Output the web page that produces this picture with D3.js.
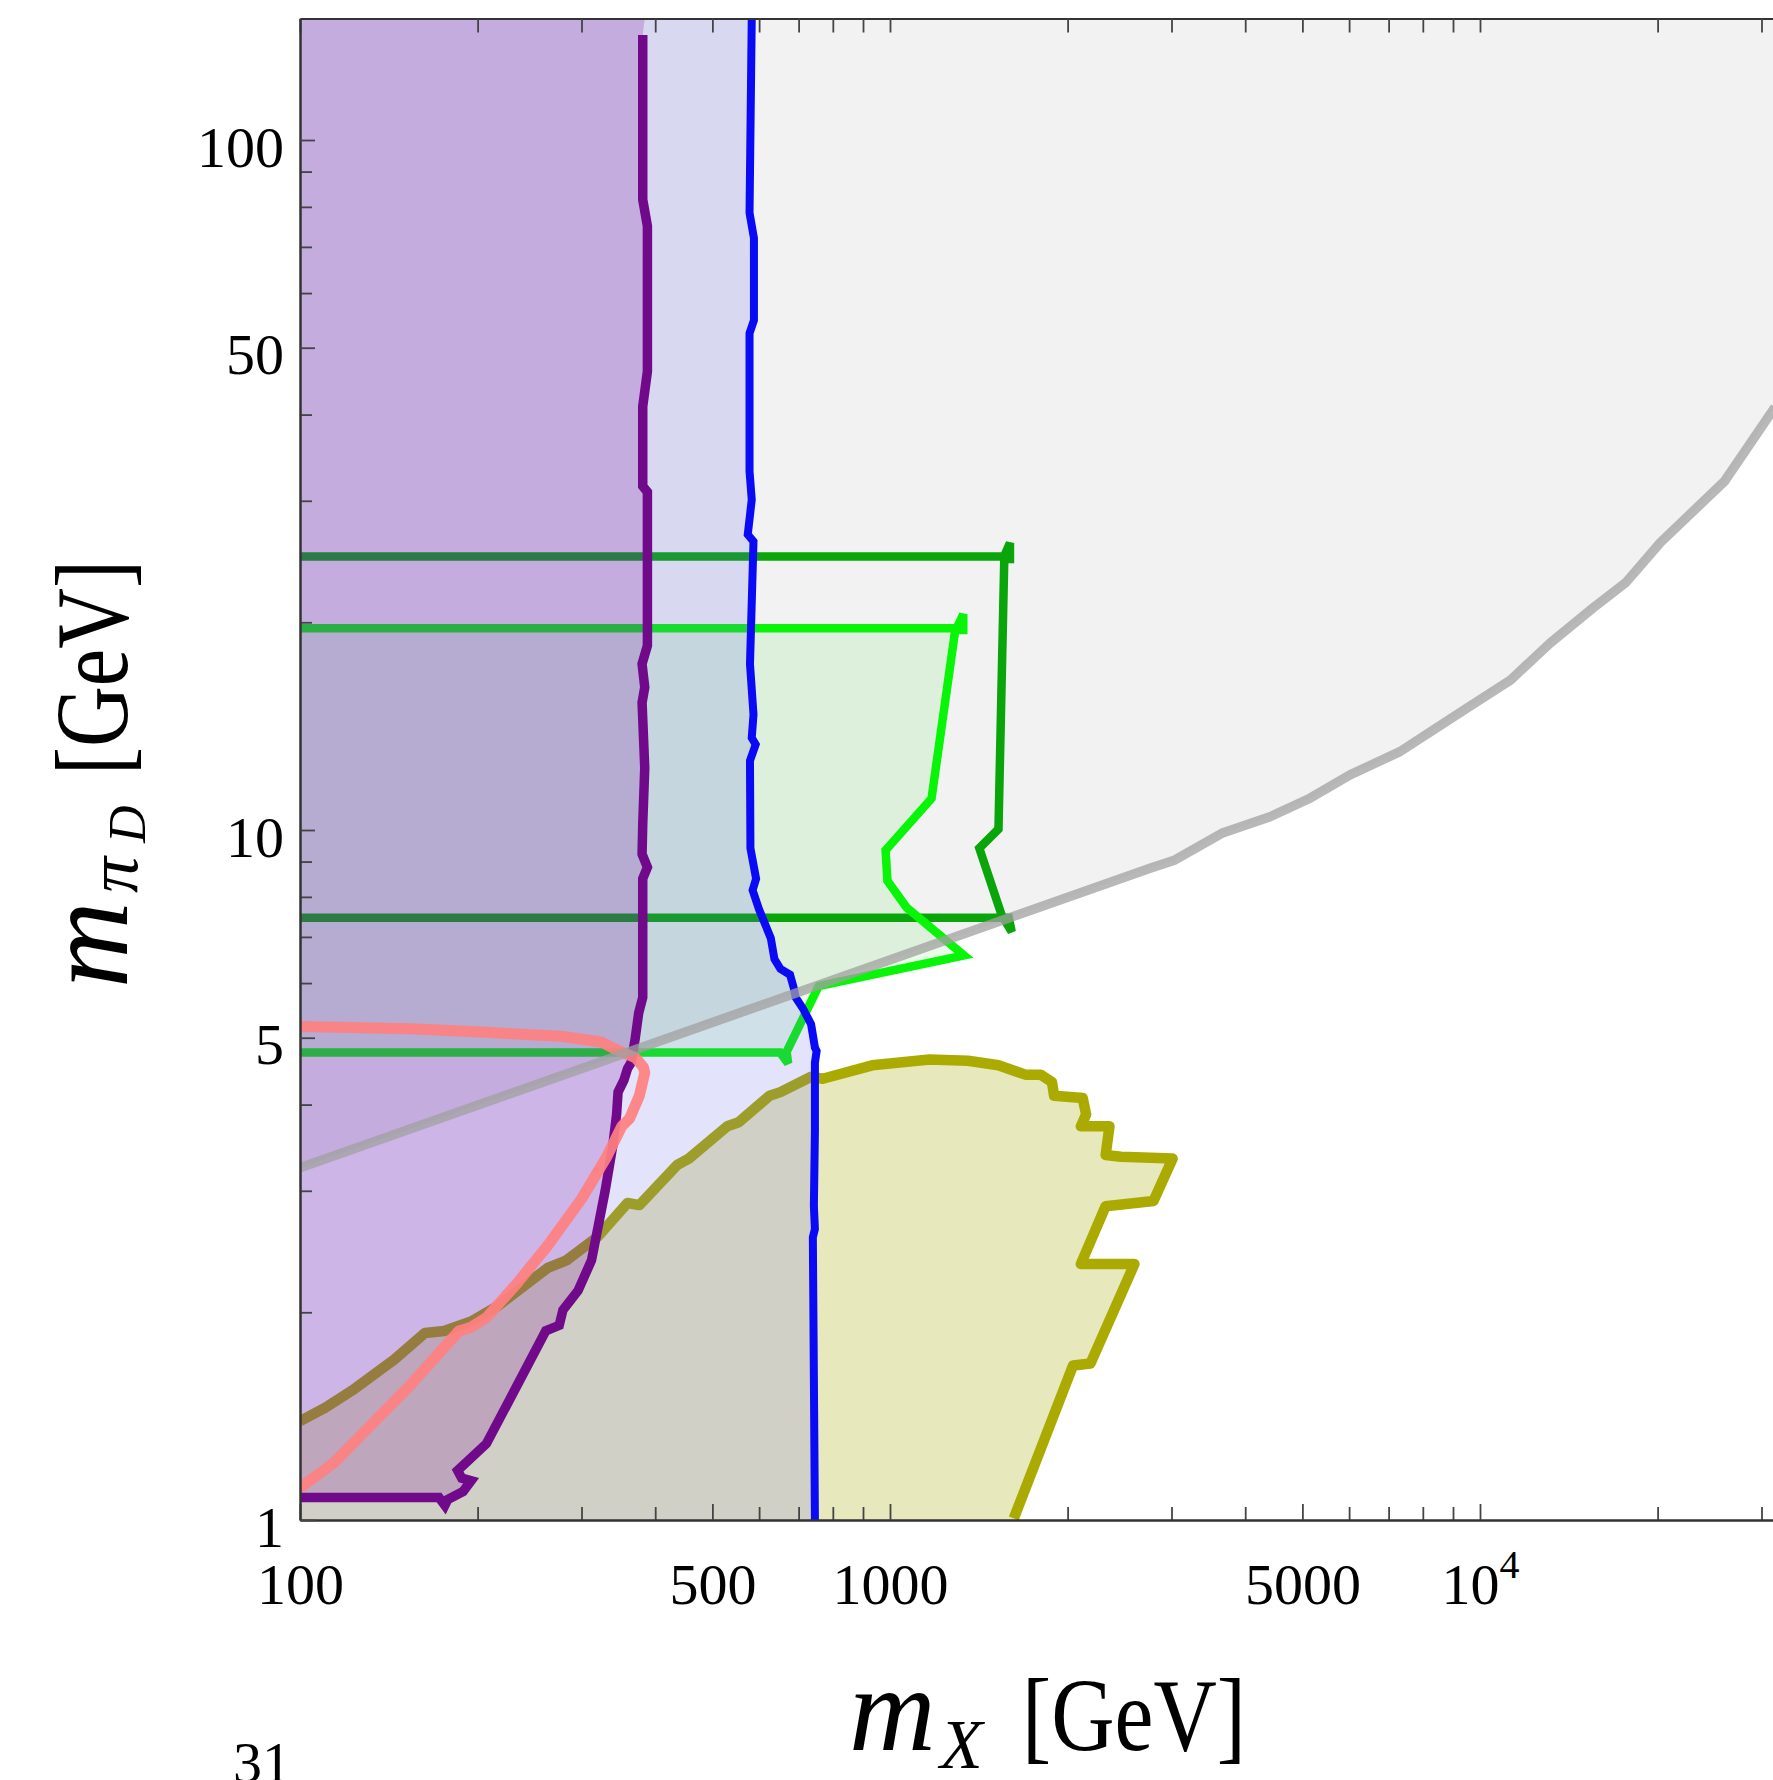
<!DOCTYPE html>
<html>
<head>
<meta charset="utf-8">
<script src="https://cdn.jsdelivr.net/npm/d3@7"></script>
<style>
  body { margin: 0; background: #fff; }
  svg { display: block; font-family: 'Liberation Serif', 'DejaVu Serif', serif; }
</style>
</head>
<body>
<svg id="chart" width="1773" height="1780"></svg>
<script>
// tick labels
const xMajor = [100, 500, 1000, 5000, 10000];
const yMajor = [1, 5, 10, 50, 100];

// grey boundary (m_X, m_piD)
const grayX = [100, 2759, 3041, 3650, 4407, 5151, 6021, 7317, 8332, 9495, 11270, 13140, 15540, 17670, 20230, 25970, 31623];
const grayY = [3.24, 8.80, 9.05, 9.89, 10.45, 11.12, 12.02, 12.99, 13.96, 15.01, 16.50, 18.65, 20.98, 22.84, 26.11, 32.02, 41.0];

// purple contour
const purpleX = [381, 381, 388, 388, 381, 381, 388, 388, 380, 384, 380, 384, 381, 380, 388, 381, 381, 375, 370, 364, 359, 354, 346, 344, 339, 329, 312, 296, 279, 275, 261, 207, 185, 188, 195, 189, 178, 176, 172, 100];
const purpleY = [142, 82, 75, 46.2, 41.1, 31.5, 30.9, 18.5, 17.4, 16.1, 15.3, 12.3, 10.2, 9.23, 8.83, 8.5, 5.72, 5.43, 4.99, 4.6, 4.51, 4.34, 4.17, 3.87, 3.49, 3.0, 2.38, 2.15, 2.015, 1.915, 1.88, 1.29, 1.18, 1.15, 1.14, 1.10, 1.071, 1.05, 1.078, 1.078];

// blue contour
const blueX = [583, 578, 588, 588, 578, 578, 583, 574, 587, 579, 587, 583, 592, 579, 580, 593, 585, 600, 628, 637, 652, 677, 687, 692, 713, 735, 746, 751, 746, 746, 743, 746, 740, 746];
const blueY = [150, 78.4, 72.1, 54.8, 52.5, 33.1, 30.1, 26.8, 26.2, 17.4, 14.7, 13.6, 13.3, 12.6, 9.41, 8.5, 8.18, 7.67, 6.97, 6.5, 6.29, 6.17, 5.9, 5.72, 5.5, 5.23, 4.84, 4.78, 4.6, 3.67, 2.85, 2.64, 2.57, 1];

// dark green contour
const dkGreenX = [100, 1560, 1597, 1597, 1562, 1527, 1417, 1546, 1608, 1590, 100];
const dkGreenY = [24.9, 24.9, 26.06, 24.7, 24.7, 10.03, 9.41, 7.53, 7.12, 7.46, 7.46];

// light green contour
const ltGreenX = [100, 1297, 1331, 1331, 1290, 1176, 983, 990, 1067, 1335, 757, 668, 672, 651, 100];
const ltGreenY = [19.6, 19.6, 20.54, 19.5, 19.5, 11.11, 9.35, 8.44, 7.72, 6.58, 5.94, 4.77, 4.59, 4.76, 4.76];

// yellow contour
const yellowX = [100, 110.4, 122.6, 144.5, 162.8, 175.5, 195, 216, 263, 283, 319, 359, 376, 436, 456, 530, 554, 625, 652, 735, 769, 933, 1167, 1356, 1527, 1696, 1800, 1882, 1897, 2121, 2150, 2106, 2355, 2320, 2463, 3013, 2797, 2320, 2106, 2596, 2187, 2043, 1621];
const yellowY = [1.391, 1.455, 1.541, 1.708, 1.866, 1.879, 1.94, 2.041, 2.32, 2.379, 2.57, 2.88, 2.86, 3.27, 3.34, 3.72, 3.77, 4.12, 4.17, 4.39, 4.36, 4.56, 4.65, 4.63, 4.56, 4.42, 4.42, 4.31, 4.12, 4.09, 3.87, 3.72, 3.72, 3.38, 3.36, 3.34, 2.90, 2.85, 2.35, 2.35, 1.686, 1.675, 1.005];

// pink contour
const pinkX = [100, 153, 207, 279, 324, 344, 370, 382, 384, 376, 362, 351, 331, 300, 263, 233, 207, 195, 186, 153, 132, 114, 100];
const pinkY = [5.19, 5.15, 5.09, 5.02, 4.93, 4.80, 4.68, 4.53, 4.45, 4.12, 3.82, 3.72, 3.36, 2.92, 2.50, 2.20, 1.965, 1.903, 1.879, 1.561, 1.374, 1.209, 1.113];

const xDomain = [100, 31623], yDomain = [1, 150];

const plot = { left: 300, right: 1775, top: 18.5, bottom: 1520 };

const svg = d3.select('#chart');

const x = d3.scaleLog().domain(xDomain).range([plot.left, plot.right]);
const y = d3.scaleLog().domain(yDomain).range([plot.bottom, plot.top]);

const pts = (xs, ys) => xs.map((v, i) => [v, ys[i]]);
const line = d3.line().x(d => x(d[0])).y(d => y(d[1]));

svg
  .append('defs')
  .append('clipPath')
  .attr('id', 'clip')
  .append('rect')
  .attr('x', plot.left)
  .attr('y', plot.top)
  .attr('width', plot.right - plot.left)
  .attr('height', plot.bottom - plot.top);

const g = svg.append('g').attr('clip-path', 'url(#clip)');

const fill = (data, color) =>
  g.append('path').attr('d', line(data) + 'Z').attr('fill', color).attr('stroke', 'none');

const stroke = (data, color, w, join = 'miter') =>
  g
    .append('path')
    .attr('d', line(data))
    .attr('fill', 'none')
    .attr('stroke', color)
    .attr('stroke-width', w)
    .attr('stroke-linejoin', join)
    .attr('stroke-miterlimit', 3);

// fills
fill(pts(grayX, grayY).concat([[xDomain[1], yDomain[1]], [xDomain[0], yDomain[1]]]), '#f2f2f2');
fill(pts(ltGreenX, ltGreenY), 'rgba(0,225,0,0.09)');
fill(pts(yellowX, yellowY).concat([[1621, 1], [100, 1]]), 'rgba(165,165,0,0.26)');

// lines under the exclusion fills
stroke(pts(dkGreenX, dkGreenY), '#0aa50a', 8.5);
stroke(pts(ltGreenX, ltGreenY), '#08f508', 8.5);
stroke(pts(yellowX, yellowY), '#aaaa00', 10.5, 'round');

fill([[100, 150]].concat(pts(blueX, blueY), [[100, 1]]), 'rgba(100,100,240,0.18)');
fill([[100, 150], [384, 150]].concat(pts(purpleX, purpleY)), 'rgba(120,0,150,0.2)');

stroke(pts(blueX, blueY), '#0a0af5', 8);
stroke(pts(purpleX, purpleY), '#700a8a', 9.5);
stroke(pts(pinkX, pinkY), '#ff8080', 11, 'round').attr('opacity', 0.92);
stroke(pts(grayX, grayY), '#a0a0a0', 9.5, 'round').attr('opacity', 0.75);

// axes
const minorX = x.ticks().filter(d => !xMajor.includes(d));
const minorY = y.ticks().filter(d => !yMajor.includes(d));

const styleAxis = sel => {
  sel.select('.domain').attr('stroke', '#333').attr('stroke-width', 2);
  sel.selectAll('.tick line').attr('stroke', '#444').attr('stroke-width', 1.8);
};

svg
  .append('g')
  .attr('transform', `translate(0,${plot.bottom})`)
  .call(d3.axisBottom(x).tickValues(minorX).tickSize(-13).tickSizeOuter(0).tickFormat(''))
  .call(styleAxis);

const xAxisG = svg
  .append('g')
  .attr('transform', `translate(0,${plot.bottom})`)
  .call(d3.axisBottom(x).tickValues(xMajor).tickSize(-16).tickSizeOuter(0).tickFormat(d => (d === 10000 ? '' : d)))
  .call(styleAxis);

xAxisG
  .selectAll('text')
  .attr('y', 84)
  .attr('dy', null)
  .attr('font-size', 58)
  .attr('font-family', "'Liberation Serif', serif")
  .attr('fill', '#000');

xAxisG
  .selectAll('.tick')
  .filter(d => d === 10000)
  .select('text')
  .call(t => {
    t.append('tspan').text('10');
    t.append('tspan').attr('dy', -26).attr('font-size', 40).text('4');
  });

svg
  .append('g')
  .attr('transform', `translate(0,${plot.top})`)
  .call(d3.axisTop(x).tickValues(minorX.concat(xMajor)).tickSize(-14).tickSizeOuter(0).tickFormat(''))
  .call(styleAxis);

svg
  .append('g')
  .attr('transform', `translate(${plot.left},0)`)
  .call(d3.axisLeft(y).tickValues(minorY).tickSize(-12).tickSizeOuter(0).tickFormat(''))
  .call(styleAxis);

const yAxisG = svg
  .append('g')
  .attr('transform', `translate(${plot.left},0)`)
  .call(d3.axisLeft(y).tickValues(yMajor).tickSize(-15).tickSizeOuter(0).tickPadding(16).tickFormat(d => d))
  .call(styleAxis);

yAxisG
  .selectAll('text')
  .attr('dy', 26)
  .attr('font-size', 58)
  .attr('font-family', "'Liberation Serif', serif")
  .attr('fill', '#000');

// axis titles
const xt = svg.append('g');
xt.append('text').attr('x', 849).attr('y', 1750).attr('font-size', 120).attr('font-style', 'italic').text('m');
xt.append('text').attr('x', 940).attr('y', 1768).attr('font-size', 70).attr('font-style', 'italic').text('X');
xt.append('text')
  .attr('x', 1022)
  .attr('y', 1750)
  .attr('font-size', 104)
  .attr('textLength', 224)
  .attr('lengthAdjust', 'spacingAndGlyphs')
  .text('[GeV]');

const yt = svg.append('g').attr('transform', 'translate(127,0) rotate(-90)');
yt.append('text').attr('x', -988).attr('y', 0).attr('font-size', 120).attr('font-style', 'italic').text('m');
yt.append('text').attr('x', -893).attr('y', 10).attr('font-size', 72).attr('font-style', 'italic').text('π');
yt.append('text').attr('x', -843).attr('y', 18).attr('font-size', 52).attr('font-style', 'italic').text('D');
yt.append('text')
  .attr('x', -775)
  .attr('y', 0)
  .attr('font-size', 104)
  .attr('textLength', 215)
  .attr('lengthAdjust', 'spacingAndGlyphs')
  .text('[GeV]');

// page number
svg.append('text').attr('x', 233).attr('y', 1782).attr('font-size', 58).text('31');
</script>
</body>
</html>
